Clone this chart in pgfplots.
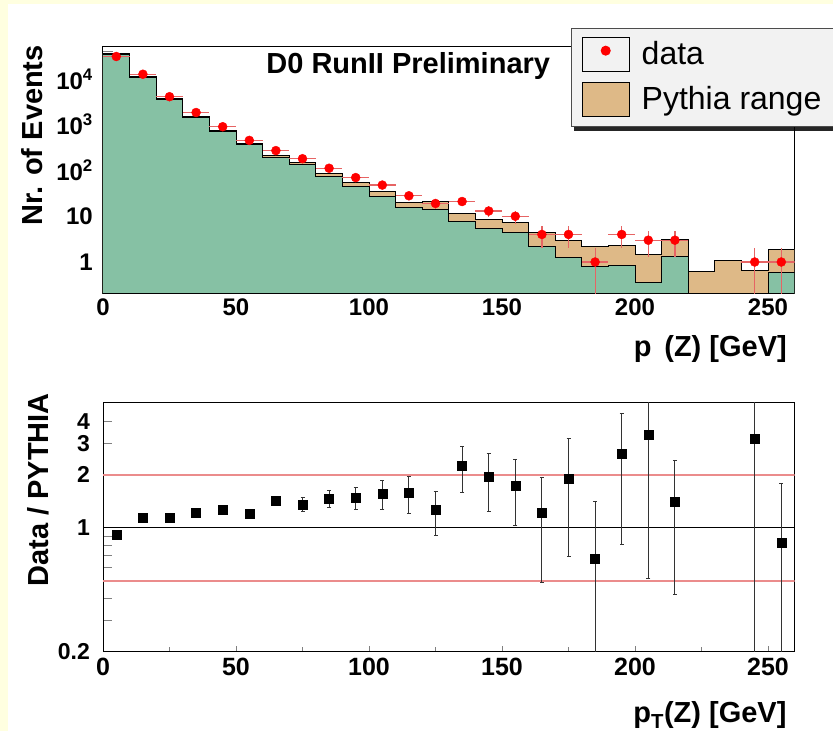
\documentclass[border=0pt]{standalone}
\usepackage{fontspec}
\setmainfont{Liberation Sans}
\usepackage{pgfplots}
\usepackage{pgfplotstable}
\pgfplotsset{compat=1.18}
\definecolor{bgyellow}{RGB}{255,255,224}
\definecolor{histgreen}{RGB}{134,193,164}
\definecolor{histtan}{RGB}{222,185,135}
\definecolor{errred}{RGB}{230,100,100}
\definecolor{linered}{RGB}{235,140,140}
\definecolor{legfill}{RGB}{242,242,242}

\pgfplotstableread{
x y ep em
5 31000 176 176
15 12700 113 113
25 4100 64 64
35 1850 43 43
45 905 30 30
55 455 21 21
65 272 16.5 16.5
75 181 13.5 13.5
85 112 10.6 10.6
95 70 8.4 8.4
105 48 6.9 6.9
115 28 5.3 5.3
125 19 4.4 4.4
135 21 4.6 4.6
145 13 3.6 3.6
155 10 3.2 3.2
165 4 2 2
175 4 2 2
185 1 1 0.999
195 4 2 2
205 3 1.73 1.73
215 3 1.73 1.73
245 1 1 0.999
255 1 1 0.999
}\datatable

\pgfplotstableread{
x y ep em
5 0.916 0.02 0.02
15 1.14 0.02 0.02
25 1.14 0.03 0.03
35 1.22 0.04 0.04
45 1.27 0.05 0.05
55 1.20 0.06 0.06
65 1.42 0.08 0.08
75 1.36 0.12 0.12
85 1.47 0.17 0.17
95 1.49 0.21 0.22
105 1.56 0.29 0.28
115 1.59 0.36 0.38
125 1.26 0.35 0.35
135 2.24 0.66 0.66
145 1.94 0.70 0.70
155 1.74 0.70 0.70
165 1.22 0.72 0.73
175 1.91 1.29 1.22
185 0.667 0.75 0.66
195 2.62 1.82 1.81
205 3.36 2.84 2.84
215 1.41 0.99 0.99
245 3.2 3.2 3.19
255 0.83 0.96 0.82
}\ratiotable

\begin{document}
\begin{tikzpicture}[x=1pt,y=1pt]
\useasboundingbox (0,0) rectangle (833,731);
\fill[bgyellow] (0,0) rectangle (833,731);
\fill[white] (8,0) rectangle (833,727);
% legend shadow (drawn behind the legend box)
\fill[black!85] (574,600) rectangle (840,700);

% ---------------- top panel ----------------
\begin{axis}[
  at={(103pt,437pt)}, anchor=south west,
  scale only axis, width=691.6pt, height=247pt,
  xmin=0, xmax=260, ymode=log, ymin=0.2, ymax=5e4,
  log origin y=infty,
  axis line style={line width=1pt},
  tick pos=left, tick align=inside,
  xtick={0,50,100,150,200,250},
  xticklabels={0,50,100,150,200,250},
  minor xtick={10,20,30,40,60,70,80,90,110,120,130,140,160,170,180,190,210,220,230,240,260},
  ytick={1,10,100,1000,10000},
  yticklabels={1,10,10\textsuperscript{2},10\textsuperscript{3},10\textsuperscript{4}},
  minor ytick={0.3,0.4,0.5,0.6,0.7,0.8,0.9,2,3,4,5,6,7,8,9,20,30,40,50,60,70,80,90,200,300,400,500,600,700,800,900,2000,3000,4000,5000,6000,7000,8000,9000,20000,30000,40000},
  xtick style={/pgfplots/major tick length=10pt,/pgfplots/minor tick length=7pt,line width=1pt},
  ytick style={/pgfplots/major tick length=19pt,/pgfplots/minor tick length=10pt,line width=1pt},
  tick label style={font=\fontsize{24}{28}\selectfont\bfseries, inner sep=0pt},
  xticklabel style={yshift=-5pt},
  yticklabel style={xshift=-10pt},
  xlabel={p\textsubscript{\phantom{T}}(Z) [GeV]},
  xlabel style={font=\fontsize{29}{34}\selectfont\bfseries, at={(rel axis cs:0.989,-0.255)}, anchor=base east, inner sep=0pt},
  ylabel={Nr. of Events},
  ylabel style={font=\fontsize{29}{34}\selectfont\bfseries, at={(rel axis cs:-0.0868,1.008)}, anchor=base east, inner sep=0pt},
  legend style={at={(rel axis cs:0.677,1.077)}, anchor=north west,
    fill=legfill, draw=black!70, line width=1pt,
    font=\fontsize{32}{38}\selectfont,
    cells={anchor=base west, inner sep=0pt},
    column sep=10pt, row sep=10pt, inner xsep=10pt, inner ysep=9pt},
]
\addlegendimage{legend image code/.code={
  \path (0pt,-7.3pt) rectangle (47pt,26.7pt);
  \fill[red] (23.5pt,14pt) circle (4.5pt);}}
\addlegendentry{data}
\addlegendimage{legend image code/.code={
  \draw[fill=histtan, draw=black, line width=1pt] (0pt,-7.3pt) rectangle (47pt,26.7pt);}}
\addlegendentry{Pythia range\hspace*{30pt}}

\addplot[const plot, fill=histtan, draw=black, line width=1pt, forget plot] coordinates {
(0,36500) (10,11200) (20,3800) (30,1550) (40,750) (50,390) (60,210) (70,148)
(80,85) (90,54) (100,34) (110,20) (120,21.3) (130,11.3) (140,8.4) (150,7.3)
(160,4.4) (170,3.0) (180,2.16) (190,2.3) (200,1.45) (210,3.08) (220,0.63)
(230,1.07) (240,0.64) (250,1.89) (260,1.89)} \closedcycle;

\addplot[const plot, fill=histgreen, draw=black, line width=1pt, forget plot] coordinates {
(0,34700) (10,10700) (20,3600) (30,1470) (40,710) (50,366) (60,194) (70,134)
(80,74) (90,44) (100,27) (110,15.3) (120,13.8) (130,7.6) (140,5.3) (150,4.4)
(160,2.2) (170,1.27) (180,0.79) (190,0.84) (200,0.35) (210,1.31) (220,0.01)
(230,0.01) (240,0.01) (250,0.58) (260,0.58)} \closedcycle;

\addplot[only marks, mark=*, mark size=4.5pt, color=red, mark options={fill=red, draw=red}, forget plot,
  error bars/.cd, x dir=both, x fixed=5, y dir=both, y explicit,
  error bar style={color=errred, line width=1.2pt}, error mark=none]
  table[x=x, y=y, y error plus=ep, y error minus=em] {\datatable};

\node[anchor=base west, font=\fontsize{29}{34}\selectfont\bfseries, inner sep=0pt] at (rel axis cs:0.236,0.891) {D0 RunII Preliminary};
\end{axis}

% ---------------- bottom panel ----------------
\begin{axis}[
  at={(103pt,79.3pt)}, anchor=south west,
  scale only axis, width=691.6pt, height=249pt,
  xmin=0, xmax=260, ymode=log, ymin=0.2, ymax=5.1,
  axis line style={line width=1pt},
  tick pos=left, tick align=inside,
  xtick={0,50,100,150,200,250},
  xticklabels={0,50,100,150,200,250},
  minor xtick={25,75,125,175,225},
  ytick={0.2,1,2,3,4},
  yticklabels={0.2,1,2,3,4},
  minor ytick={0.3,0.4,0.5,0.6,0.7,0.8,0.9},
  xtick style={/pgfplots/major tick length=6pt,/pgfplots/minor tick length=5pt,line width=1pt},
  ytick style={/pgfplots/major tick length=9pt,/pgfplots/minor tick length=9pt,line width=1pt},
  xticklabel style={font=\fontsize{25}{29}\selectfont\bfseries, inner sep=0pt, yshift=-6pt},
  yticklabel style={font=\fontsize{23}{27}\selectfont\bfseries, inner sep=0pt, xshift=-13pt},
  xlabel={p\textsubscript{T}(Z) [GeV]},
  xlabel style={font=\fontsize{29}{34}\selectfont\bfseries, at={(rel axis cs:0.9886,-0.286)}, anchor=base east, inner sep=0pt},
  ylabel={Data / PYTHIA},
  ylabel style={font=\fontsize{29}{34}\selectfont\bfseries, at={(rel axis cs:-0.0795,1.039)}, anchor=base east, inner sep=0pt},
]
\addplot[linered, line width=2pt, forget plot] coordinates {(0,2) (260,2)};
\addplot[linered, line width=2pt, forget plot] coordinates {(0,0.5) (260,0.5)};
\addplot[black, line width=1pt, forget plot] coordinates {(0,1) (260,1)};

\addplot[only marks, mark=square*, mark size=4.5pt, black, forget plot,
  error bars/.cd, y dir=both, y explicit,
  error bar style={color=black!80, line width=1pt},
  error mark options={rotate=90, mark size=2pt, line width=0.8pt, black!80}]
  table[x=x, y=y, y error plus=ep, y error minus=em] {\ratiotable};
\end{axis}
\end{tikzpicture}
\end{document}
